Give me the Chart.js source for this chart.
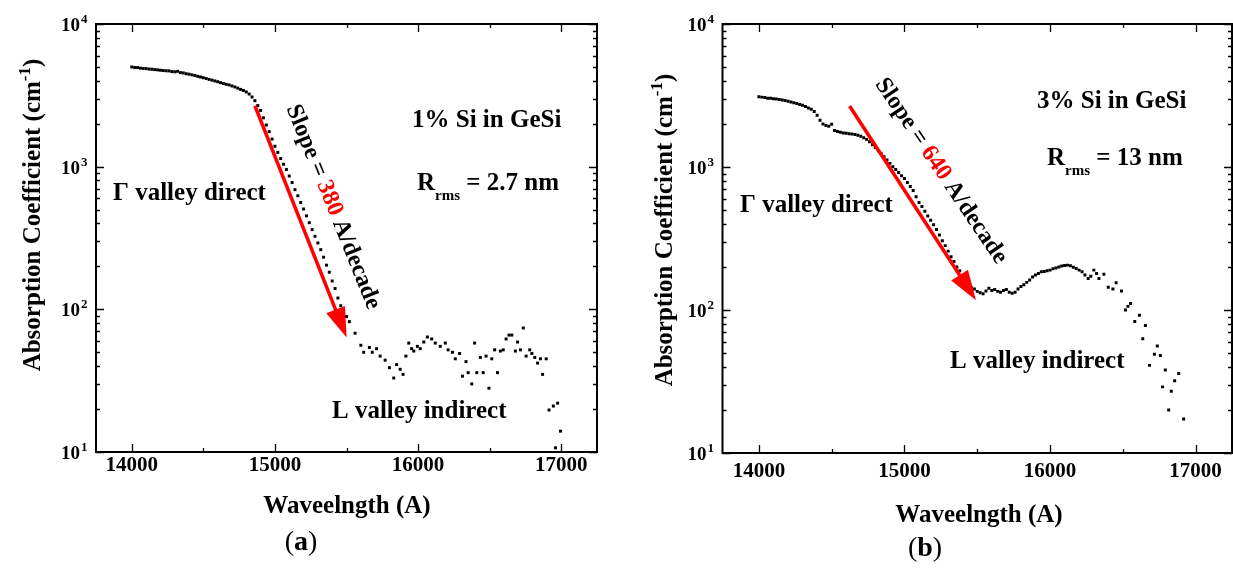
<!DOCTYPE html>
<html>
<head>
<meta charset="utf-8">
<script src="https://cdn.jsdelivr.net/npm/chart.js@4.4.1/dist/chart.umd.min.js"></script>
<style>
  html, body { margin: 0; padding: 0; background: #fff; overflow: hidden; }
  .panel { position: absolute; top: 0; height: 571px; }
  #panelA { left: 0; width: 616px; }
  #panelB { left: 616px; width: 620px; }
</style>
</head>
<body>
<div class="panel" id="panelA"><canvas id="chartA"></canvas></div>
<div class="panel" id="panelB"><canvas id="chartB"></canvas></div>
<script>
'use strict';

// Axis ticks (wavelength in A, absorption in cm^-1)
const X_MAJOR = [14000, 15000, 16000, 17000];
const X_MINOR = [14500, 15500, 16500];
const Y_EXPONENTS = [1, 2, 3, 4];

// (a) 1% Si in GeSi
const wavelengthA = [
  14000, 14020, 14040, 14060, 14080, 14100, 14120, 14140, 14160, 14180,
  14200, 14220, 14240, 14260, 14280, 14300, 14320, 14340, 14360, 14380,
  14400, 14420, 14440, 14460, 14480, 14500, 14520, 14540, 14560, 14580,
  14600, 14620, 14640, 14660, 14680, 14700, 14720, 14740, 14760, 14780,
  14800, 14820, 14840, 14860, 14880,
  14900, 14920, 14940, 14960, 14980, 15000, 15020, 15040, 15060, 15080,
  15100, 15120, 15140, 15160, 15180, 15200, 15220, 15240, 15260, 15280,
  15300, 15320, 15340, 15360, 15380, 15400, 15420, 15440, 15460,
  15480, 15500, 15520, 15560, 15600, 15620, 15660, 15680, 15710, 15735,
  15770, 15800, 15830, 15850, 15875, 15895, 15915, 15935, 15955, 15970,
  15995, 16015, 16040, 16065, 16095, 16120, 16155, 16190, 16210, 16240,
  16260, 16290, 16310, 16335, 16350, 16375, 16395, 16410, 16435, 16455,
  16475, 16495, 16515, 16535, 16555, 16575, 16595, 16615, 16635, 16655,
  16680, 16695, 16715, 16735, 16755, 16780, 16795, 16815, 16835, 16855,
  16870, 16895, 16915, 16945, 16960, 16975, 16995
];
const absorptionA = [
  5000, 4960, 4950, 4900, 4880, 4870, 4830, 4820, 4790, 4770,
  4740, 4720, 4700, 4690, 4640, 4620, 4660, 4560, 4540, 4480,
  4450, 4400, 4360, 4300, 4250, 4200, 4150, 4090, 4040, 3990,
  3940, 3880, 3830, 3780, 3740, 3680, 3620, 3550, 3480, 3420,
  3340, 3230, 3080, 2900, 2680,
  2480, 2200, 1960, 1760, 1560, 1390, 1260, 1140, 1040, 955,
  860, 775, 690, 625, 560, 505, 452, 405, 362, 325,
  292, 262, 232, 204, 182, 158, 140, 120, 106,
  94, 89, 82, 68, 56, 50, 54, 50, 53, 47,
  44, 39, 33, 41, 38, 35, 47, 58, 53, 51,
  55, 53, 59, 64, 62, 58, 55, 58, 52, 50,
  45, 49, 34, 43, 36, 30, 58, 36, 46, 36,
  47, 28, 45, 52, 36, 51, 52, 62, 66, 66,
  51, 59, 52, 74, 47, 52, 49, 46, 42, 45,
  35, 45, 19.7, 21, 10.7, 22, 14
];

// (b) 3% Si in GeSi
const wavelengthB = [
  14000, 14020, 14040, 14060, 14080, 14100, 14120, 14140, 14160, 14180,
  14200, 14220, 14240, 14260, 14280, 14300, 14320, 14340, 14360, 14380,
  14400, 14420, 14440, 14460, 14480, 14500, 14520, 14540, 14560, 14580,
  14600, 14620, 14640, 14660, 14680, 14700, 14720, 14740, 14760, 14780,
  14800, 14820, 14840, 14860, 14880, 14900, 14920, 14940, 14960, 14980,
  15000, 15020, 15040, 15060, 15080, 15100, 15120, 15140, 15160, 15180,
  15200, 15220, 15240, 15260, 15280, 15300, 15320, 15340, 15360, 15380,
  15400, 15420, 15440, 15460, 15480, 15500, 15520, 15540, 15560, 15580,
  15600, 15620, 15640, 15660, 15680, 15700, 15720, 15740, 15760, 15780,
  15800, 15820, 15840, 15860, 15880, 15900, 15920, 15940, 15960, 15980,
  16000, 16020, 16040, 16060, 16080, 16100, 16120, 16140, 16160, 16180,
  16200, 16220, 16240,
  16262, 16280, 16301, 16320, 16336, 16370, 16400, 16432, 16454, 16491,
  16518, 16535, 16553, 16582, 16614, 16637, 16655, 16683, 16717, 16737,
  16758, 16773, 16792, 16815, 16833, 16856, 16884, 16918
];
const absorptionB = [
  3100, 3080, 3060, 3030, 3020, 3000, 2990, 2960, 2940, 2920,
  2880, 2850, 2810, 2780, 2740, 2700, 2650, 2590, 2530, 2440,
  2300, 2120, 2000, 1950, 1930, 1990, 1800, 1770, 1750, 1730,
  1720, 1710, 1700, 1690, 1670, 1640, 1600, 1560, 1500, 1430,
  1370, 1300, 1240, 1180, 1120, 1060, 1005, 960, 915, 870,
  830, 780, 730, 685, 620, 565, 530, 490, 455, 425,
  395, 365, 335, 305, 282, 258, 236, 218, 200, 188,
  172, 158, 150, 143, 140, 135, 132, 130, 136, 142,
  137, 139, 135, 133, 137, 139, 133, 131, 133, 140,
  146, 150, 156, 162, 170, 176, 180, 185, 186, 188,
  190, 194, 197, 200, 203, 205, 206, 204, 199, 195,
  190, 185, 176,
  166, 172, 190, 180, 166, 178, 144, 140, 155, 136,
  100, 106, 111, 83, 92, 63, 78, 41, 49, 56,
  48, 29, 38, 20, 27, 32, 36, 17.3
];

// Slope arrows: [start wavelength, start alpha, end wavelength, end alpha]
const arrowA = [14860, 2673, 15501, 63.4];
const arrowB = [14623, 2673, 15491, 117];

const FONT = '"Liberation Serif", "Times New Roman", Times, serif';
const RED = '#ff0000';

function font(size, bold) {
  return (bold ? 'bold ' : '') + size + 'px ' + FONT;
}

// draws a run of [text, size, color, dy, bold] pieces starting at x
function drawRuns(ctx, runs, x, y) {
  runs.forEach(r => {
    ctx.font = font(r[1], r[4] !== false);
    ctx.fillStyle = r[2] || '#000';
    ctx.fillText(r[0], x, y + (r[3] || 0));
    x += ctx.measureText(r[0]).width;
  });
  return x;
}

function runsWidth(ctx, runs) {
  let w = 0;
  runs.forEach(r => {
    ctx.font = font(r[1], r[4] !== false);
    w += ctx.measureText(r[0]).width;
  });
  return w;
}

const panelDecor = {
  id: 'panelDecor',
  afterDatasetsDraw(chart, args, o) {
    const { ctx, scales: { x, y } } = chart;
    const [w0, a0, w1, a1] = o.arrow;
    const x0 = x.getPixelForValue(w0), y0 = y.getPixelForValue(a0);
    const x1 = x.getPixelForValue(w1), y1 = y.getPixelForValue(a1);
    const ang = Math.atan2(y1 - y0, x1 - x0);
    const headLen = 30, headHalf = 10;
    const bx = x1 - headLen * Math.cos(ang), by = y1 - headLen * Math.sin(ang);
    ctx.save();
    ctx.strokeStyle = RED;
    ctx.fillStyle = RED;
    ctx.lineWidth = 3.5;
    ctx.beginPath();
    ctx.moveTo(x0, y0);
    ctx.lineTo(bx + 2 * Math.cos(ang), by + 2 * Math.sin(ang));
    ctx.stroke();
    ctx.beginPath();
    ctx.moveTo(x1, y1);
    ctx.lineTo(bx - headHalf * Math.sin(ang), by + headHalf * Math.cos(ang));
    ctx.lineTo(bx + headHalf * Math.sin(ang), by - headHalf * Math.cos(ang));
    ctx.closePath();
    ctx.fill();
    ctx.restore();
  },
  afterDraw(chart, args, o) {
    const { ctx, chartArea: a, scales: { x, y } } = chart;
    ctx.save();

    // frame and inward ticks on all four sides
    ctx.strokeStyle = '#000';
    ctx.lineWidth = 2;
    ctx.strokeRect(a.left, a.top, a.right - a.left, a.bottom - a.top);
    ctx.lineWidth = 1.3;
    ctx.beginPath();
    const xTick = (v, len) => {
      const px = Math.round(x.getPixelForValue(v)) + 0.5;
      ctx.moveTo(px, a.bottom); ctx.lineTo(px, a.bottom - len);
      ctx.moveTo(px, a.top); ctx.lineTo(px, a.top + len);
    };
    const yTick = (v, len) => {
      const py = Math.round(y.getPixelForValue(v)) + 0.5;
      ctx.moveTo(a.left, py); ctx.lineTo(a.left + len, py);
      ctx.moveTo(a.right, py); ctx.lineTo(a.right - len, py);
    };
    X_MAJOR.forEach(v => xTick(v, 8));
    X_MINOR.forEach(v => xTick(v, 4));
    Y_EXPONENTS.forEach(e => {
      const dec = Math.pow(10, e);
      yTick(dec, 8);
      if (e < 4) [2, 3, 4, 5, 6, 7, 8, 9].forEach(m => yTick(m * dec, 4));
    });
    ctx.stroke();

    // tick labels
    ctx.fillStyle = '#000';
    ctx.textBaseline = 'alphabetic';
    ctx.textAlign = 'center';
    ctx.font = font(21, true);
    X_MAJOR.forEach(v => ctx.fillText(String(v), x.getPixelForValue(v), a.bottom + o.xLabelDy));
    Y_EXPONENTS.forEach(e => {
      const py = y.getPixelForValue(Math.pow(10, e));
      ctx.textAlign = 'right';
      ctx.font = font(19, true);
      ctx.fillText('10', a.left - 16, py + 7);
      ctx.textAlign = 'left';
      ctx.font = font(13, true);
      ctx.fillText(String(e), a.left - 15, py - 1);
    });

    // axis titles
    ctx.textAlign = 'left';
    const xt = [['Waveelngth (A)', 25]];
    drawRuns(ctx, xt, o.xTitle[0] - runsWidth(ctx, xt) / 2, o.xTitle[1]);

    ctx.save();
    ctx.translate(o.yTitle[0], o.yTitle[1]);
    ctx.rotate(-Math.PI / 2);
    const yt = [['Absorption Coefficient (cm', 25], ['-1', 17, '#000', -10], [')', 25]];
    drawRuns(ctx, yt, -runsWidth(ctx, yt) / 2, 0);
    ctx.restore();

    // panel letter
    const pl = [['(', 28, '#000', 0, false], [o.letter, 28], [')', 28, '#000', 0, false]];
    drawRuns(ctx, pl, o.letterPos[0] - runsWidth(ctx, pl) / 2, o.letterPos[1]);

    // annotations
    drawRuns(ctx, [['\u0393 valley direct', 25]], o.gamma[0], o.gamma[1]);
    drawRuns(ctx, [[o.sample, 25]], o.samplePos[0], o.samplePos[1]);
    drawRuns(ctx, [['R', 25], ['rms', 15, '#000', 10], [' = ' + o.rms, 25]], o.rmsPos[0], o.rmsPos[1]);
    drawRuns(ctx, [['L valley indirect', 25]], o.lValley[0], o.lValley[1]);

    // rotated slope label
    ctx.save();
    ctx.translate(o.slopePos[0], o.slopePos[1]);
    ctx.rotate(o.slopePos[2] * Math.PI / 180);
    ctx.textBaseline = 'middle';
    const sl = [['Slope = ', 24], [o.slope, 24, RED], [' A/decade', 24]];
    drawRuns(ctx, sl, -runsWidth(ctx, sl) / 2, 0);
    ctx.restore();

    ctx.restore();
  }
};

function toPoints(xs, ys) {
  return xs.map((w, i) => ({ x: w, y: ys[i] }));
}

function makeChart(canvasId, points, padding, decor) {
  return new Chart(document.getElementById(canvasId), {
    type: 'scatter',
    data: {
      datasets: [{
        data: points,
        pointStyle: 'rect',
        pointRadius: 2.1,
        pointBorderWidth: 0,
        backgroundColor: '#000',
        borderColor: '#000'
      }]
    },
    options: {
      responsive: true,
      maintainAspectRatio: false,
      animation: false,
      devicePixelRatio: 1,
      layout: { padding: padding },
      scales: {
        x: { type: 'linear', min: 13750, max: 17250, display: false },
        y: { type: 'logarithmic', min: 10, max: 10000, display: false }
      },
      plugins: {
        legend: { display: false },
        tooltip: { enabled: false },
        panelDecor: decor
      }
    },
    plugins: [panelDecor]
  });
}

makeChart('chartA', toPoints(wavelengthA, absorptionA),
  { left: 96, top: 24, right: 19, bottom: 119 },
  {
    arrow: arrowA,
    slope: '380',
    sample: '1% Si in GeSi',
    rms: '2.7 nm',
    letter: 'a',
    xLabelDy: 19,
    xTitle: [347, 513],
    yTitle: [40, 215],
    letterPos: [301, 550],
    gamma: [113, 200],
    samplePos: [412, 127],
    rmsPos: [417, 190],
    lValley: [332, 418],
    slopePos: [333, 207, 68]
  });

makeChart('chartB', toPoints(wavelengthB, absorptionB),
  { left: 106.5, top: 24, right: 2.5, bottom: 118 },
  {
    arrow: arrowB,
    slope: '640',
    sample: '3% Si in GeSi',
    rms: '13 nm',
    letter: 'b',
    xLabelDy: 24,
    xTitle: [363, 522],
    yTitle: [56, 230],
    letterPos: [309, 556],
    gamma: [124, 212],
    samplePos: [421, 108],
    rmsPos: [431, 165],
    lValley: [334, 368],
    slopePos: [325, 171, 56]
  });
</script>
</body>
</html>
